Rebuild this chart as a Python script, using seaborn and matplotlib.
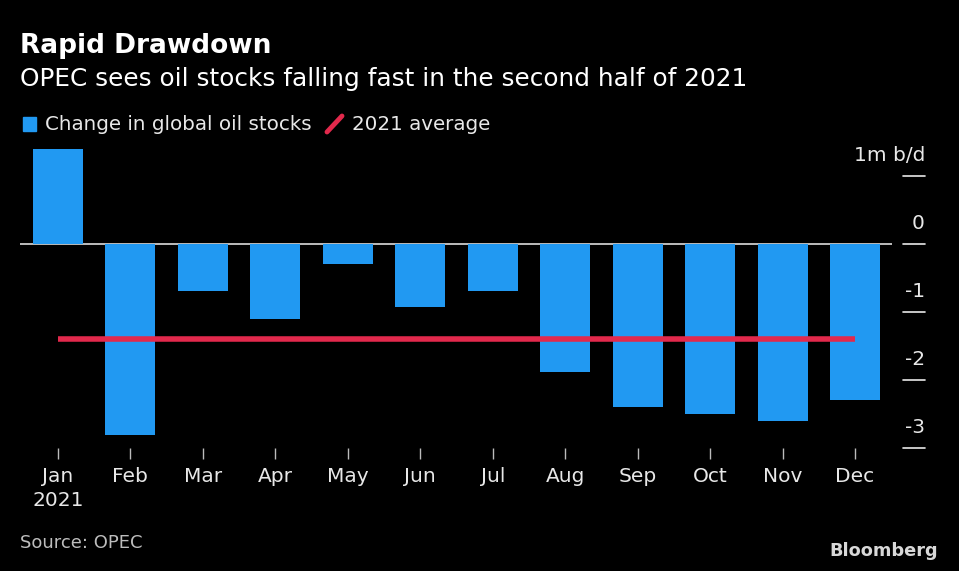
import matplotlib
matplotlib.use("Agg")
import matplotlib.pyplot as plt
import matplotlib.transforms as mtransforms
import seaborn as sns
import pandas as pd

# data (million barrels per day)
months = ["Jan", "Feb", "Mar", "Apr", "May", "Jun", "Jul", "Aug", "Sep", "Oct", "Nov", "Dec"]
month_labels = ["Jan\n2021"] + months[1:]
stock_change = [1.40, -2.81, -0.69, -1.10, -0.29, -0.93, -0.69, -1.88, -2.40, -2.50, -2.60, -2.29]
avg_2021 = -1.39
y_ticks = [1, 0, -1, -2, -3]
y_tick_labels = ["1m b/d", "0", "-1", "-2", "-3"]

BG = "#000000"
BLUE = "#2199f2"
RED = "#e2294c"
TXT = "#e8e8e8"

sns.set_theme(style="white")
plt.rcParams["font.family"] = ["DejaVu Sans"]

df = pd.DataFrame({"month": months, "change": stock_change})

fig = plt.figure(figsize=(9.59, 5.71), dpi=100, facecolor=BG)
ax = fig.add_axes([20 / 959, 1 - 448 / 571, 872 / 959, 310 / 571])
ax.set_facecolor(BG)

sns.barplot(data=df, x="month", y="change", color=BLUE, width=0.69,
            saturation=1, linewidth=0, edgecolor=BLUE, ax=ax)
ax.axhline(0, color="#dddddd", lw=1.2, zorder=0.5)
ax.hlines(avg_2021, 0, len(months) - 1, color=RED, lw=4, zorder=3)

ax.set_xlim(-0.524, len(months) - 1 + 0.51)
ax.set_ylim(-3.0, 1.56)
for s in ax.spines.values():
    s.set_visible(False)
ax.set_xlabel("")
ax.set_ylabel("")

ax.set_xticks(range(len(months)))
ax.set_xticklabels(month_labels, color=TXT, fontsize=14.5, linespacing=1.3)
ax.tick_params(axis="x", bottom=True, length=8, width=1, color="#bbbbbb", pad=6)
ax.set_yticks([])

# right-hand y axis: tick dashes outside the plot with labels above
trans = mtransforms.blended_transform_factory(ax.transAxes, ax.transData)
for v, lab in zip(y_ticks, y_tick_labels):
    ax.plot([1.0126, 1.0378], [v, v], color=TXT, lw=1.2, transform=trans, clip_on=False)
    ax.annotate(lab, xy=(1.0378, v), xycoords=trans, xytext=(0, 8),
                textcoords="offset points", ha="right", va="bottom",
                color=TXT, fontsize=14.5)

# titles
fig.text(20 / 959, 1 - 46 / 571, "Rapid Drawdown", color="white", fontsize=19,
         fontweight="bold", va="center", ha="left")
fig.text(20 / 959, 1 - 79 / 571, "OPEC sees oil stocks falling fast in the second half of 2021",
         color="white", fontsize=17.8, va="center", ha="left")

# legend
fig.patches.append(plt.Rectangle((23 / 959, 1 - 131 / 571), 13 / 959, 14 / 571,
                                 color=BLUE, transform=fig.transFigure))
fig.text(45 / 959, 1 - 124 / 571, "Change in global oil stocks", color=TXT,
         fontsize=14.3, va="center", ha="left")
fig.lines.append(plt.Line2D([327 / 959, 342 / 959], [1 - 132 / 571, 1 - 116 / 571],
                            color=RED, lw=3.5, transform=fig.transFigure))
fig.text(352 / 959, 1 - 124 / 571, "2021 average", color=TXT,
         fontsize=14.3, va="center", ha="left")

# footer
fig.text(20 / 959, 1 - 543 / 571, "Source: OPEC", color="#bdbdbd", fontsize=13,
         va="center", ha="left")
fig.text(938 / 959, 1 - 551 / 571, "Bloomberg", color="#d8d8d8", fontsize=12.8,
         fontweight="bold", va="center", ha="right")

fig.savefig("out.png", dpi=100, facecolor=BG)
